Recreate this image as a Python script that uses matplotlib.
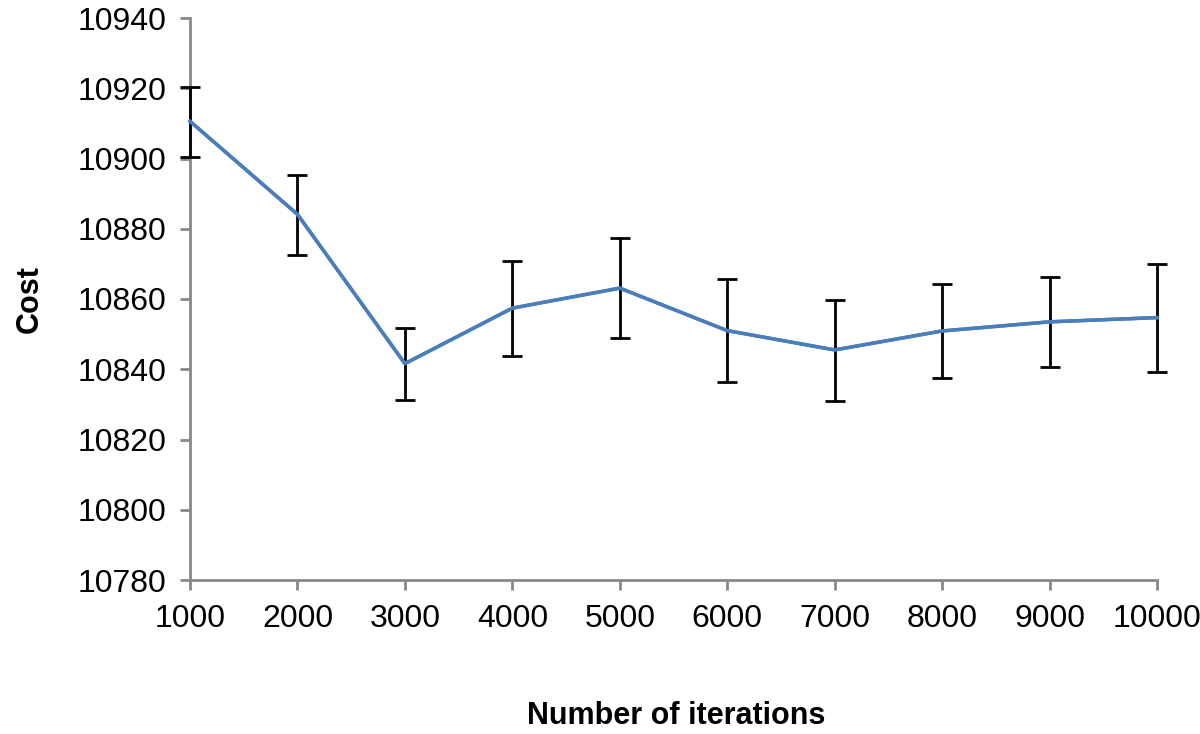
import matplotlib
matplotlib.use("Agg")
import matplotlib.pyplot as plt

iterations = [1000, 2000, 3000, 4000, 5000, 6000, 7000, 8000, 9000, 10000]
cost = [10910.6, 10884.1, 10841.6, 10857.4, 10863.1, 10851.0, 10845.5, 10850.9, 10853.5, 10854.7]
err_upper = [10920.4, 10895.4, 10851.8, 10870.9, 10877.5, 10865.8, 10859.7, 10864.2, 10866.2, 10870.0]
err_lower = [10900.4, 10872.6, 10831.2, 10843.8, 10848.8, 10836.3, 10831.0, 10837.5, 10840.7, 10839.3]

plt.rcParams['font.family'] = ['Liberation Sans', 'DejaVu Sans']

fig = plt.figure(figsize=(12, 7.34), dpi=100)
ax = fig.add_axes([190/1200, 1-580/734, (1157-190)/1200, (580-18)/734])

yerr = [[c - l for c, l in zip(cost, err_lower)], [u - c for c, u in zip(cost, err_upper)]]
eb = ax.errorbar(iterations, cost, yerr=yerr, color='#4a7ebb', linewidth=2.5,
                 ecolor='black', elinewidth=2, capsize=7, capthick=2, zorder=3)
for artist in eb.lines[1]:
    artist.set_clip_on(False)
for artist in eb.lines[2]:
    artist.set_clip_on(False)
eb.lines[0].set_clip_on(False)
line, = ax.plot(iterations, cost, color='#4a7ebb', linewidth=2.5, zorder=4)
line.set_clip_on(False)

ax.set_xlim(1000, 10000)
ax.set_ylim(10780, 10940)
ax.set_xticks(iterations)
ax.set_yticks(range(10780, 10941, 20))
ax.spines['top'].set_visible(False)
ax.spines['right'].set_visible(False)
for s in ['left', 'bottom']:
    ax.spines[s].set_color('#898989')
    ax.spines[s].set_linewidth(2)
ax.tick_params(axis='both', direction='out', length=7, width=2, color='#898989',
               labelsize=23, labelcolor='black')
ax.tick_params(axis='x', pad=10)
ax.tick_params(axis='y', pad=10)

fig.text(30/1200, 1-299/734, 'Cost', rotation=90, fontsize=22, fontweight='bold',
         ha='center', va='center')
fig.text(676/1200, 1-716/734, 'Number of iterations', fontsize=22, fontweight='bold',
         ha='center', va='center')

fig.savefig('out.png', dpi=100)
